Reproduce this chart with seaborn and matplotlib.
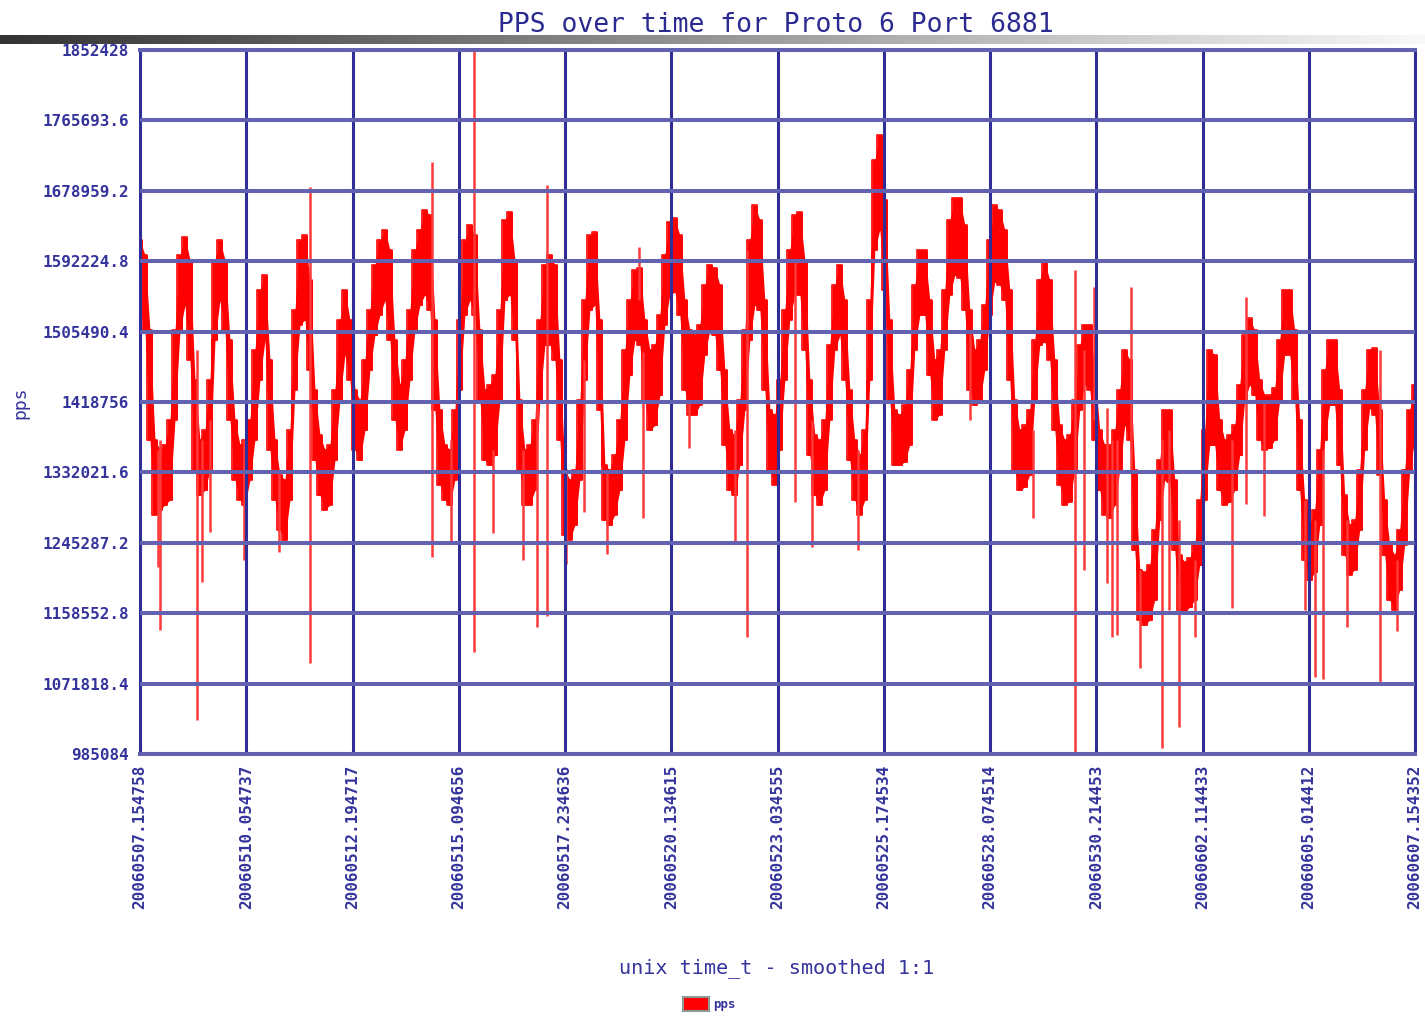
import numpy as np
import pandas as pd
import seaborn as sns
import matplotlib.pyplot as plt
import matplotlib.patches as mpatches
from datetime import datetime

titlu = 'PPS over time for Proto 6 Port 6881'
eticheta_x = 'unix time_t - smoothed 1:1'
eticheta_y = 'pps'
serie = 'pps'

x_tick_labels = ['20060507.154758', '20060510.054737', '20060512.194717',
                 '20060515.094656', '20060517.234636', '20060520.134615',
                 '20060523.034555', '20060525.174534', '20060528.074514',
                 '20060530.214453', '20060602.114433', '20060605.014412',
                 '20060607.154352']
y_tick_labels = ['985084', '1071818.4', '1158552.8', '1245287.2', '1332021.6',
                 '1418756', '1505490.4', '1592224.8', '1678959.2',
                 '1765693.6', '1852428']

# band of the noisy signal, one bin every 175 minutes (kpps, max / min in bin)
pas_min = 175
pps_max_k = [1618, 1600, 1507, 1372, 1360, 1366, 1397, 1507, 1600, 1622,
             1594, 1446, 1372, 1384, 1446, 1594, 1618, 1594, 1495, 1397,
             1366, 1372, 1397, 1483, 1557, 1575, 1471, 1372, 1329, 1323,
             1384, 1532, 1618, 1624, 1569, 1434, 1378, 1360, 1366, 1434,
             1520, 1557, 1520, 1434, 1421, 1471, 1532, 1588, 1618, 1631,
             1606, 1495, 1440, 1471, 1532, 1606, 1631, 1655, 1649, 1520,
             1409, 1366, 1360, 1409, 1520, 1618, 1637, 1624, 1507, 1434,
             1440, 1452, 1532, 1643, 1653, 1594, 1421, 1360, 1366, 1397,
             1520, 1588, 1600, 1588, 1471, 1335, 1323, 1335, 1421, 1544,
             1624, 1628, 1520, 1341, 1335, 1353, 1397, 1483, 1544, 1581,
             1584, 1520, 1483, 1489, 1526, 1600, 1641, 1645, 1624, 1544,
             1507, 1501, 1514, 1563, 1588, 1584, 1563, 1458, 1384, 1378,
             1421, 1507, 1618, 1661, 1643, 1544, 1409, 1403, 1446, 1532,
             1606, 1649, 1653, 1594, 1446, 1378, 1372, 1397, 1489, 1563,
             1588, 1544, 1434, 1372, 1353, 1384, 1544, 1717, 1748, 1668,
             1520, 1409, 1403, 1415, 1458, 1563, 1606, 1606, 1544, 1471,
             1483, 1557, 1643, 1670, 1670, 1637, 1532, 1483, 1495, 1538,
             1618, 1661, 1655, 1631, 1557, 1421, 1384, 1390, 1409, 1495,
             1569, 1591, 1569, 1471, 1390, 1372, 1378, 1421, 1489, 1514,
             1514, 1458, 1384, 1366, 1366, 1384, 1434, 1483, 1471, 1335,
             1212, 1209, 1218, 1261, 1347, 1409, 1409, 1323, 1230, 1222,
             1227, 1243, 1298, 1384, 1483, 1477, 1397, 1372, 1378, 1390,
             1440, 1501, 1522, 1507, 1446, 1427, 1427, 1436, 1495, 1557,
             1557, 1507, 1397, 1298, 1267, 1286, 1360, 1458, 1495, 1495,
             1434, 1304, 1267, 1273, 1335, 1434, 1483, 1485, 1409, 1298,
             1243, 1230, 1261, 1335, 1409, 1440]
pps_min_k = [1532, 1507, 1372, 1280, 1286, 1292, 1298, 1397, 1507, 1538,
             1471, 1335, 1304, 1310, 1335, 1495, 1544, 1507, 1397, 1323,
             1298, 1292, 1323, 1372, 1446, 1495, 1360, 1298, 1261, 1249,
             1298, 1434, 1514, 1520, 1458, 1347, 1304, 1286, 1292, 1347,
             1421, 1477, 1446, 1360, 1347, 1384, 1458, 1501, 1526, 1544,
             1495, 1397, 1360, 1384, 1446, 1507, 1538, 1551, 1532, 1409,
             1317, 1298, 1292, 1323, 1434, 1526, 1544, 1526, 1421, 1347,
             1341, 1353, 1421, 1544, 1551, 1495, 1335, 1292, 1292, 1310,
             1421, 1489, 1489, 1471, 1372, 1255, 1249, 1267, 1323, 1446,
             1532, 1538, 1409, 1273, 1267, 1280, 1310, 1372, 1452, 1495,
             1489, 1421, 1384, 1390, 1427, 1514, 1551, 1554, 1526, 1434,
             1403, 1403, 1415, 1477, 1507, 1501, 1458, 1366, 1310, 1304,
             1341, 1409, 1495, 1538, 1532, 1434, 1335, 1317, 1360, 1446,
             1520, 1551, 1551, 1483, 1353, 1304, 1292, 1310, 1397, 1483,
             1501, 1446, 1347, 1298, 1280, 1298, 1446, 1606, 1631, 1557,
             1421, 1341, 1341, 1345, 1366, 1483, 1526, 1526, 1452, 1397,
             1403, 1483, 1551, 1575, 1572, 1532, 1434, 1415, 1419, 1458,
             1526, 1567, 1563, 1544, 1446, 1335, 1310, 1314, 1329, 1421,
             1489, 1493, 1471, 1384, 1317, 1292, 1296, 1335, 1409, 1440,
             1434, 1372, 1310, 1280, 1276, 1292, 1335, 1390, 1372, 1236,
             1150, 1144, 1150, 1175, 1273, 1323, 1320, 1236, 1163, 1160,
             1166, 1175, 1218, 1298, 1366, 1366, 1310, 1292, 1296, 1310,
             1353, 1421, 1440, 1427, 1372, 1360, 1362, 1372, 1421, 1477,
             1477, 1421, 1310, 1224, 1199, 1209, 1267, 1372, 1415, 1415,
             1341, 1230, 1206, 1212, 1261, 1360, 1411, 1403, 1329, 1230,
             1175, 1163, 1187, 1243, 1335, 1372]

# single-sample spikes (hours from start, kpps top / bottom)
spike_ore = [10.5, 11.7, 33.3, 36.2, 40.8, 60.7, 81.1, 99.2, 170.4, 181.5,
             194.9, 206.0, 223.5, 231.7, 237.5, 248.6, 259.1, 272.5, 291.2,
             293.5, 320.4, 347.2, 354.2, 382.2, 392.1, 419.0, 484.3, 521.1,
             545.6, 550.9, 556.7, 564.3, 567.2, 570.1, 578.3, 583.5, 596.4,
             600.5, 606.3, 615.6, 637.2, 645.4, 655.9, 679.8, 685.6, 690.3,
             704.3, 723.6, 733.5]
spike_sus_k = [1360, 1372, 1483, 1372, 1397, 1372, 1335, 1684, 1714, 1372,
               1852, 1360, 1360, 1421, 1686, 1335, 1471, 1335, 1610, 1480,
               1421, 1384, 1606, 1594, 1397, 1360, 1507, 1384, 1581, 1483,
               1560, 1411, 1372, 1372, 1560, 1212, 1372, 1384, 1273, 1224,
               1372, 1548, 1421, 1298, 1273, 1360, 1273, 1483, 1224]
spike_jos_k = [1215, 1138, 1027, 1197, 1259, 1224, 1234, 1097, 1228, 1245,
               1111, 1257, 1224, 1142, 1155, 1219, 1283, 1232, 1544, 1276,
               1362, 1248, 1129, 1296, 1240, 1236, 1397, 1276, 985, 1212,
               1397, 1196, 1129, 1132, 1335, 1091, 993, 1163, 1018, 1129,
               1165, 1293, 1278, 1163, 1080, 1078, 1142, 1070, 1137]

albastru = '#2e2e96'
albastru_deschis = '#6262b0'
text_col = '#34349c'

fmt = '%Y%m%d.%H%M%S'
t0 = datetime.strptime(x_tick_labels[0], fmt)
x_ticks = [(datetime.strptime(s, fmt) - t0).total_seconds() / 3600
           for s in x_tick_labels]
y_ticks = [float(s) for s in y_tick_labels]

df = pd.DataFrame({'ore': np.arange(len(pps_max_k)) * pas_min / 60,
                   'sus': np.array(pps_max_k) * 1000,
                   'jos': np.array(pps_min_k) * 1000})

sns.set_style('white')
plt.rcParams['font.family'] = ['DejaVu Sans Mono', 'DejaVu Sans']

fig = plt.figure(figsize=(14.25, 10.16), dpi=100)

# decorative gradient bar of the slide
bara = fig.add_axes([0, 1 - 44 / 1016, 1, 9 / 1016])
bara.imshow(np.linspace(0.2, 0.97, 256)[None, :], aspect='auto',
            cmap='gray', vmin=0, vmax=1)
bara.axis('off')

ax = fig.add_axes([140 / 1425, 1 - 754 / 1016, 1275 / 1425, 704 / 1016])
# continuous band plus stepped bins for the jagged edge
ax.fill_between(df['ore'], df['jos'], df['sus'],
                color='#ff0000', lw=0, zorder=1)
ax.fill_between(df['ore'], df['jos'], df['sus'], step='mid',
                color='#ff0000', lw=0, zorder=1)
sns.lineplot(data=df, x='ore', y='sus', color='#ff0000', lw=1.2,
             drawstyle='steps-mid', ax=ax)
sns.lineplot(data=df, x='ore', y='jos', color='#ff0000', lw=1.2,
             drawstyle='steps-mid', ax=ax)
ax.vlines(spike_ore, np.array(spike_jos_k) * 1000,
          np.array(spike_sus_k) * 1000, color='#ff3a3a', lw=1.8, zorder=2)

ax.set_xlim(x_ticks[0], x_ticks[-1])
ax.set_ylim(y_ticks[0], y_ticks[-1])
ax.set_xticks(x_ticks)
ax.set_xticklabels(x_tick_labels, rotation=90)
ax.set_yticks(y_ticks)
ax.set_yticklabels(y_tick_labels)
ax.set_xlabel('')
ax.set_ylabel('')
ax.tick_params(length=0, labelsize=11.5, labelcolor=text_col)
ax.tick_params(axis='x', pad=8)
ax.tick_params(axis='y', pad=8)
for lab in ax.get_xticklabels() + ax.get_yticklabels():
    lab.set_fontweight('bold')

ax.set_axisbelow(False)
ax.yaxis.grid(True, color=albastru_deschis, lw=2.9)
ax.xaxis.grid(True, color=albastru, lw=2.2)
for s in ['left', 'right']:
    ax.spines[s].set_color(albastru)
    ax.spines[s].set_linewidth(2.2)
for s in ['top', 'bottom']:
    ax.spines[s].set_color(albastru_deschis)
    ax.spines[s].set_linewidth(2.9)

fig.text(776 / 1425, 1 - 25 / 1016, titlu, ha='center', va='center',
         fontsize=19, color='#2a2a90')
fig.text(777 / 1425, 1 - 968 / 1016, eticheta_x, ha='center', va='center',
         fontsize=14.5, color=text_col)
fig.text(20 / 1425, 1 - 403 / 1016, eticheta_y, ha='center', va='center',
         rotation=90, fontsize=13, color=text_col)

patch = mpatches.Patch(facecolor='#ff0000', edgecolor='#8c9a9a', lw=1.5,
                       label=serie)
leg = fig.legend(handles=[patch], loc='center',
                 bbox_to_anchor=(709 / 1425, 1 - 1004 / 1016),
                 frameon=False, fontsize=9, handlelength=2.1,
                 handleheight=1.3, handletextpad=0.3, borderpad=0)
for t in leg.get_texts():
    t.set_color(text_col)
    t.set_fontweight('bold')

fig.savefig('out.png', dpi=100)
